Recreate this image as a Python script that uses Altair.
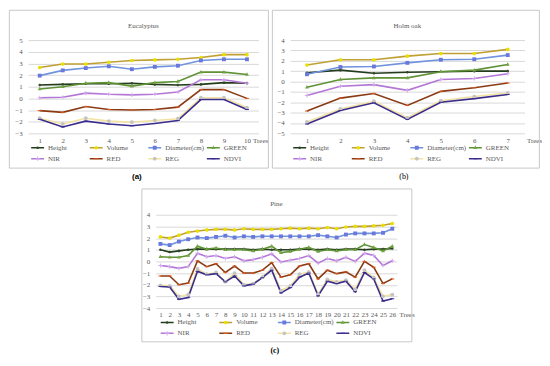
import altair as alt
import pandas as pd

FONT = "Liberation Serif"
TXT = "#595959"

series = ["Height", "Volume", "Diameter(cm)", "GREEN", "NIR", "RED", "REG", "NDVI"]
line_colors = ["#243b1c", "#c0a032", "#6f93de", "#5f9236", "#b377d6", "#8a3a12", "#f3e2a0", "#3b2d8c"]
marker_colors = ["#2f4a25", "#e8e000", "#6a78dc", "#72a441", "#d2a8ee", "#e0561c", "#c4c4c4", "#3b2d8c"]
marker_shapes = [
    "M-0.2,0A0.2,0.2,0,1,1,0.2,0A0.2,0.2,0,1,1,-0.2,0Z",
    "M-0.28,0A0.28,0.28,0,1,1,0.28,0A0.28,0.28,0,1,1,-0.28,0Z",
    "M-0.3,-0.3H0.3V0.3H-0.3Z",
    "M0,-0.34L0.3,0.2L-0.3,0.2Z",
    "M-0.32,-0.07H-0.07V-0.32H0.07V-0.07H0.32V0.07H0.07V0.32H-0.07V0.07H-0.32Z",
    "M-0.3,-0.08H0.3V0.08H-0.3Z",
    "M-0.3,0A0.3,0.3,0,1,1,0.3,0A0.3,0.3,0,1,1,-0.3,0Z",
    "M-0.3,-0.08H0.3V0.08H-0.3Z",
]

# ---- Eucalyptus (a)
euc_trees = [1, 2, 3, 4, 5, 6, 7, 8, 9, 10]
euc_height = [1.15, 1.2, 1.25, 1.25, 1.3, 1.2, 1.15, 1.2, 1.35, 1.3]
euc_volume = [2.65, 2.95, 2.95, 3.1, 3.25, 3.3, 3.35, 3.5, 3.75, 3.75]
euc_diameter = [1.95, 2.4, 2.6, 2.75, 2.5, 2.7, 2.8, 3.25, 3.35, 3.35]
euc_green = [0.8, 1.0, 1.3, 1.35, 1.05, 1.35, 1.45, 2.25, 2.25, 2.05]
euc_nir = [0.05, 0.1, 0.45, 0.35, 0.3, 0.35, 0.55, 1.6, 1.6, 1.3]
euc_red = [-1.05, -1.2, -0.7, -0.95, -1.0, -0.95, -0.75, 0.75, 0.75, 0.0]
euc_reg = [-1.7, -2.2, -1.7, -1.95, -2.05, -1.9, -1.75, 0.05, 0.05, -0.8]
euc_ndvi = [-1.8, -2.45, -1.95, -2.2, -2.35, -2.15, -1.9, -0.1, -0.1, -0.95]

# ---- Holm oak (b)
oak_trees = [1, 2, 3, 4, 5, 6, 7]
oak_height = [0.85, 1.1, 0.8, 0.9, 0.95, 1.0, 1.0]
oak_volume = [1.6, 2.1, 2.1, 2.45, 2.7, 2.7, 3.1]
oak_diameter = [0.7, 1.4, 1.45, 1.8, 2.1, 2.15, 2.55]
oak_green = [-0.55, 0.2, 0.35, 0.35, 0.95, 1.1, 1.65]
oak_nir = [-1.35, -0.45, -0.3, -0.85, 0.2, 0.3, 0.75]
oak_red = [-2.85, -1.6, -1.15, -2.3, -0.95, -0.6, -0.15]
oak_reg = [-3.9, -2.65, -1.9, -3.5, -1.85, -1.45, -1.1]
oak_ndvi = [-4.1, -2.8, -2.05, -3.65, -2.0, -1.65, -1.25]

# ---- Pine (c)
pine_trees = list(range(1, 27))
pine_height = [1.0, 0.8, 0.9, 1.0, 1.05, 1.05, 1.05, 1.05, 1.05, 1.05, 1.0, 1.05, 1.0,
               1.0, 1.0, 1.05, 1.05, 1.0, 1.05, 1.0, 1.05, 1.05, 1.0, 1.05, 1.05, 1.1]
pine_volume = [2.1, 2.0, 2.25, 2.5, 2.6, 2.7, 2.75, 2.75, 2.7, 2.8, 2.75, 2.75, 2.75,
               2.8, 2.85, 2.8, 2.85, 2.8, 2.9, 2.8, 2.95, 3.0, 3.0, 3.05, 3.1, 3.25]
pine_diameter = [1.5, 1.4, 1.7, 1.9, 2.05, 2.0, 2.1, 2.2, 2.05, 2.15, 2.1, 2.15, 2.15,
                 2.15, 2.15, 2.15, 2.15, 2.25, 2.15, 2.05, 2.3, 2.4, 2.4, 2.4, 2.45, 2.8]
pine_green = [0.4, 0.35, 0.35, 0.5, 1.3, 1.05, 1.15, 1.0, 1.0, 1.0, 0.9, 1.05, 1.3,
              0.75, 0.85, 1.05, 1.2, 0.85, 1.0, 0.9, 1.0, 1.0, 1.45, 1.2, 0.9, 1.3]
pine_nir = [-0.35, -0.45, -0.6, -0.45, 0.7, 0.4, 0.5, 0.25, 0.4, 0.05, 0.15, 0.35, 0.65,
            -0.05, 0.1, 0.25, 0.5, -0.15, 0.25, 0.05, 0.35, 0.0, 0.7, 0.5, -0.35, 0.05]
pine_red = [-1.25, -1.25, -2.0, -1.85, 0.05, -0.45, -0.2, -0.95, -0.4, -1.0, -1.0, -0.75, -0.1,
            -1.35, -1.15, -0.4, -0.2, -1.5, -0.75, -1.05, -0.9, -1.35, 0.0, -0.5, -1.9, -1.5]
pine_reg = [-2.05, -2.1, -3.0, -2.85, -0.65, -1.1, -0.95, -1.75, -1.0, -2.0, -1.9, -1.35, -0.6,
            -2.5, -2.1, -1.1, -0.9, -2.8, -1.55, -1.75, -1.6, -2.4, -0.75, -1.4, -3.0, -2.85]
pine_ndvi = [-2.15, -2.2, -3.25, -3.1, -0.85, -1.15, -1.05, -1.75, -1.25, -2.1, -1.95, -1.4, -0.75,
             -2.7, -2.25, -1.35, -1.0, -2.95, -1.7, -1.9, -1.7, -2.6, -0.95, -1.5, -3.4, -3.2]


def panel(title, caption, cap_font, cap_weight, trees, values, ymin, ymax, W, H,
          box_l, box_r, box_t, box_b, legend_x, title_x, title_y):
    rows = []
    for s, vals in zip(series, values):
        for t, v in zip(trees, vals):
            rows.append({"tree": t, "series": s, "value": v})
    df = pd.DataFrame(rows)

    x = alt.X("tree:O", scale=alt.Scale(type="point", padding=0.5),
              axis=alt.Axis(title="Trees", titleX=title_x, titleY=7, titleAlign="left",
                            titleBaseline="middle", titleFont=FONT, titleFontSize=7,
                            titleFontWeight="normal", titleColor=TXT, labelAngle=0,
                            labelFont=FONT, labelFontSize=7, labelColor=TXT, ticks=False,
                            domain=False, grid=False, labelPadding=3))
    y = alt.Y("value:Q", scale=alt.Scale(domain=[ymin, ymax], nice=False, zero=False),
              axis=alt.Axis(title=None, values=list(range(ymin, ymax + 1)), grid=True,
                            gridColor="#d9d9d9", ticks=False, domain=False, labelFont=FONT,
                            labelFontSize=7, labelColor=TXT, labelPadding=6))
    common = dict(orient="none", legendX=legend_x, legendY=H + 10, columns=4,
                  direction="horizontal", gridAlign="all", columnPadding=1, rowPadding=2,
                  clipHeight=9, symbolSize=169, symbolStrokeWidth=1.5, labelFont=FONT,
                  labelFontSize=7, labelColor=TXT, labelOffset=3, title=None, labelLimit=200)

    lines = alt.Chart(df).mark_line(strokeWidth=1.6).encode(
        x=x, y=y,
        color=alt.Color("series:N", scale=alt.Scale(domain=series, range=line_colors),
                        legend=alt.Legend(symbolType="stroke", zindex=1, **common)),
    )
    pts = alt.Chart(df).mark_point(filled=True, size=169, opacity=1, strokeWidth=0).encode(
        x=x, y=y,
        shape=alt.Shape("series:N", sort=None, scale=alt.Scale(range=marker_shapes),
                        legend=alt.Legend(labelOpacity=0, zindex=2,
                                          symbolStrokeColor="transparent", **common)),
        fill=alt.Fill("series:N", sort=None, scale=alt.Scale(range=marker_colors),
                      legend=alt.Legend(labelOpacity=0, zindex=2,
                                        symbolStrokeColor="transparent", **common)),
    )
    one = pd.DataFrame({"k": [0]})
    box = alt.Chart(one).mark_rect(fill="white", fillOpacity=0, stroke="#c8c8c8",
                                   strokeWidth=1).encode(
        x=alt.value(box_l), x2=alt.value(W + box_r),
        y=alt.value(box_t), y2=alt.value(H + box_b))
    ttl = alt.Chart(one).mark_text(font=FONT, fontSize=7, color=TXT, baseline="middle").encode(
        x=alt.value(W / 2), y=alt.value(title_y), text=alt.value(title))
    cap = alt.Chart(one).mark_text(font=cap_font, fontSize=8, fontWeight=cap_weight,
                                   color="black", baseline="middle").encode(
        x=alt.value((box_l + W + box_r) / 2 - 2), y=alt.value(H + box_b + 9),
        text=alt.value(caption))
    return alt.layer(box, lines, pts, ttl, cap).properties(width=W, height=H)


Ha = 94
a = panel("Eucalyptus", "(a)", "Liberation Sans", "bold", euc_trees,
          [euc_height, euc_volume, euc_diameter, euc_green, euc_nir, euc_red, euc_reg, euc_ndvi],
          -3, 5, 232, Ha, -19, 10, -30, 35, 2, 226, -14)
b = panel("Holm oak", "(b)", FONT, "normal", oak_trees,
          [oak_height, oak_volume, oak_diameter, oak_green, oak_nir, oak_red, oak_reg, oak_ndvi],
          -5, 4, 236, Ha, -18, 15, -30, 35, 2, 238, -14)
c = panel("Pine", "(c)", FONT, "bold", pine_trees,
          [pine_height, pine_volume, pine_diameter, pine_green, pine_nir, pine_red, pine_reg, pine_ndvi],
          -4, 4, 243, Ha, -14, 15, -26, 34, 4, 245, -11)

res = dict(color="independent", fill="independent", shape="independent")
row = alt.hconcat(a, b, spacing=2).resolve_scale(**res).resolve_legend(**res)
chart = alt.vconcat(row, c, spacing=7, center=True).resolve_scale(**res).resolve_legend(**res)
chart = chart.properties(padding=0, background="white").configure_view(stroke=None)

chart.save("out.html", embed_options={"renderer": "svg", "actions": False})
